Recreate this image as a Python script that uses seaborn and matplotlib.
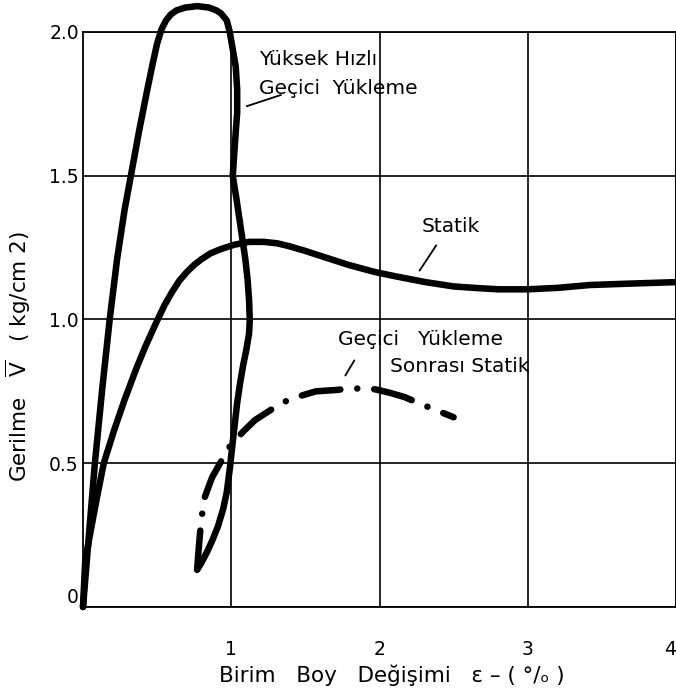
import matplotlib
matplotlib.use("Agg")
import matplotlib.pyplot as plt
import seaborn as sns
import pandas as pd

# --- data -------------------------------------------------------------------
# "Yüksek Hızlı Geçici Yükleme" (high-speed transient loading) loop
x_dyn = [0.00, 0.04, 0.08, 0.13, 0.18, 0.23, 0.28, 0.33, 0.38, 0.43,
         0.47, 0.50, 0.53, 0.56, 0.59, 0.63, 0.69, 0.77, 0.85, 0.90,
         0.93, 0.97, 0.99, 1.01, 1.03, 1.04, 1.04, 1.03, 1.01, 1.035,
         1.055, 1.075, 1.095, 1.11, 1.12, 1.125, 1.12, 1.10, 1.08, 1.06,
         1.04, 1.02, 1.005, 0.99, 0.97, 0.945, 0.91, 0.875, 0.84, 0.80,
         0.77]
y_dyn = [0.00, 0.25, 0.50, 0.76, 1.00, 1.21, 1.38, 1.52, 1.66, 1.79,
         1.89, 1.96, 2.01, 2.04, 2.06, 2.075, 2.085, 2.09, 2.085, 2.075,
         2.065, 2.04, 2.00, 1.94, 1.88, 1.80, 1.72, 1.65, 1.50, 1.42,
         1.35, 1.28, 1.21, 1.14, 1.07, 1.00, 0.95, 0.89, 0.84, 0.78,
         0.71, 0.62, 0.55, 0.48, 0.40, 0.34, 0.28, 0.235, 0.195, 0.155,
         0.13]

# "Statik" curve
x_st = [0.00, 0.015, 0.05, 0.09, 0.14, 0.21, 0.28, 0.36, 0.42, 0.49,
        0.55, 0.60, 0.65, 0.70, 0.75, 0.80, 0.86, 0.93, 1.02, 1.12,
        1.22, 1.31, 1.39, 1.49, 1.64, 1.79, 1.97, 2.11, 2.31, 2.50,
        2.64, 2.80, 3.00, 3.20, 3.42, 3.70, 4.00]
y_st = [0.00, 0.16, 0.26, 0.37, 0.50, 0.615, 0.72, 0.83, 0.905, 0.985,
        1.05, 1.095, 1.135, 1.165, 1.19, 1.21, 1.23, 1.245, 1.26, 1.27,
        1.27, 1.265, 1.255, 1.24, 1.215, 1.19, 1.165, 1.15, 1.13, 1.115,
        1.11, 1.105, 1.105, 1.11, 1.12, 1.125, 1.13]

# "Geçici Yükleme Sonrası Statik" (static after transient loading)
x_dd = [0.77, 0.78, 0.79, 0.80, 0.82, 0.87, 0.93, 0.96, 1.01, 1.08,
        1.16, 1.25, 1.34, 1.44, 1.57, 1.71, 1.80, 1.94, 1.99, 2.07,
        2.17, 2.26, 2.38, 2.50]
y_dd = [0.13, 0.20, 0.26, 0.31, 0.38, 0.45, 0.505, 0.54, 0.57, 0.61,
        0.65, 0.68, 0.71, 0.73, 0.75, 0.755, 0.76, 0.76, 0.755, 0.745,
        0.73, 0.71, 0.685, 0.66]

x_ticks = [1, 2, 3, 4]
x_ticklabels = ["1", "2", "3", "4"]
y_ticks = [0, 0.5, 1.0, 1.5, 2.0]
y_ticklabels = ["0", "0.5", "1.0", "1.5", "2.0"]

# --- figure -------------------------------------------------------------------
sns.set_style("white")
plt.rcParams["font.family"] = ["DejaVu Sans"]
plt.rcParams["text.color"] = "black"
plt.rcParams["axes.labelcolor"] = "black"

fig = plt.figure(figsize=(6.76, 6.93), dpi=100)
ax = fig.add_axes([83 / 676, 1 - 607 / 693, 593 / 676, 575 / 693])

df_dyn = pd.DataFrame({"x": x_dyn, "y": y_dyn})
df_st = pd.DataFrame({"x": x_st, "y": y_st})
df_dd = pd.DataFrame({"x": x_dd, "y": y_dd})

LW = 4.7
line_kw = dict(color="black", lw=LW, sort=False, estimator=None,
               solid_capstyle="round", solid_joinstyle="round", legend=False)
sns.lineplot(data=df_dyn, x="x", y="y", ax=ax, clip_on=False, **line_kw)
sns.lineplot(data=df_st, x="x", y="y", ax=ax, clip_on=False, **line_kw)
sns.lineplot(data=df_dd, x="x", y="y", ax=ax, color="black", lw=LW, sort=False,
             estimator=None, legend=False, linestyle=(0, (6.0, 2.6, 0.01, 2.6)),
             dash_capstyle="round", dash_joinstyle="round")

ax.set_xlim(0, 4)
ax.set_ylim(0, 2.0)
ax.set_xticks(x_ticks)
ax.set_xticklabels(x_ticklabels)
ax.set_yticks(y_ticks)
ax.set_yticklabels(y_ticklabels)
ax.tick_params(axis="both", length=0, labelsize=13.5, colors="black")
ax.tick_params(axis="x", pad=24)
ax.tick_params(axis="y", pad=3)
ax.get_yticklabels()[0].set_va("bottom")
ax.get_xticklabels()[-1].set_ha("right")

ax.grid(True, color="black", lw=1.2)
ax.set_axisbelow(True)
for s in ax.spines.values():
    s.set_color("black")
    s.set_linewidth(1.3)

ax.set_xlabel("Birim   Boy   Değişimi   ε – ( °/ₒ )", fontsize=15.5, color="black")
ax.xaxis.set_label_coords(0.52, -0.1)
ax.set_ylabel("Gerilme   $\\overline{\\mathrm{V}}$   ( kg/cm 2)", fontsize=15.5,
              color="black")
ax.yaxis.set_label_coords(-0.085, 0.435)

txt_kw = dict(fontsize=14.5, ha="left", va="center", color="black")
ax.text(1.187, 1.905, "Yüksek Hızlı", **txt_kw)
ax.text(1.187, 1.805, "Geçici  Yükleme", **txt_kw)
ax.text(2.287, 1.325, "Statik", **txt_kw)
ax.text(1.72, 0.93, "Geçici   Yükleme", **txt_kw)
ax.text(2.073, 0.835, "Sonrası Statik", **txt_kw)

lead = dict(arrowstyle="-", color="black", lw=1.3)
ax.annotate("", xy=(1.087, 1.739), xytext=(1.353, 1.784), arrowprops=lead)
ax.annotate("", xy=(2.26, 1.162), xytext=(2.393, 1.266), arrowprops=lead)
ax.annotate("", xy=(1.76, 0.797), xytext=(1.84, 0.866), arrowprops=lead)

fig.savefig("out.png", dpi=100)
